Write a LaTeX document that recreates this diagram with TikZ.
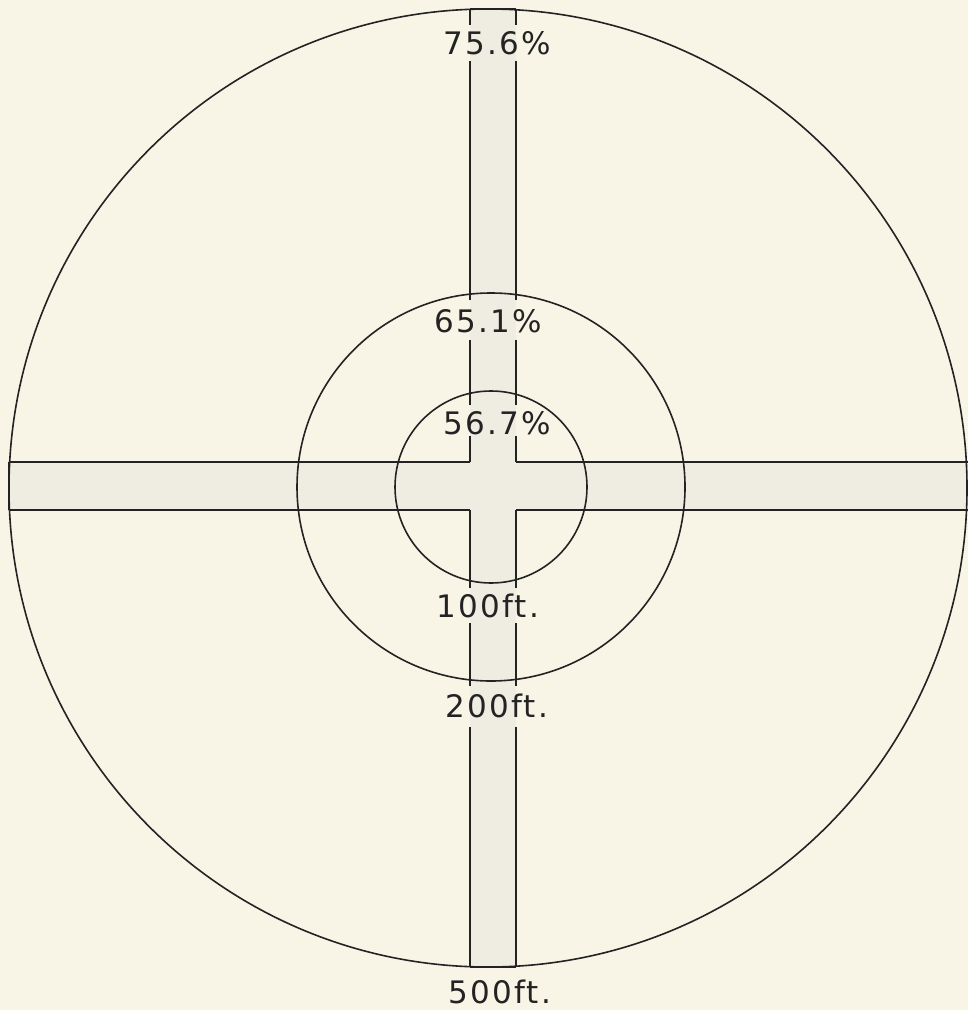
\documentclass[tikz,border=0pt]{standalone}
\usepackage{fontspec}
\newfontfamily\labfont[LetterSpace=7]{DejaVu Sans}
\definecolor{paper}{RGB}{248,245,231}
\definecolor{band}{RGB}{239,237,226}
\definecolor{ink}{RGB}{35,35,35}
\tikzset{
  ring/.style={draw=ink, line width=0.8pt},
  edge/.style={draw=ink, line width=1pt},
  lab/.style={anchor=base, inner sep=0pt, text=ink, font=\labfont\fontsize{15.5pt}{16pt}\selectfont}
}
\begin{document}
\begin{tikzpicture}[x=0.5pt,y=-0.5pt]
\fill[paper] (0,0) rectangle (968,1010);
\useasboundingbox (0,0) rectangle (968,1010);
% band fills
\fill[band] (470,9) rectangle (516,967);
\fill[band] (9,462) rectangle (968,510);
% horizontal band edges
\draw[edge] (9,462) -- (470,462);
\draw[edge] (516,462) -- (968,462);
\draw[edge] (9,510) -- (470,510);
\draw[edge] (516,510) -- (968,510);
\draw[edge] (9,462) -- (9,510);
% vertical band ends
\draw[edge] (470,9) -- (516,9);
\draw[edge] (470,967) -- (516,967);
% vertical band edges, broken by labels
\foreach \x in {470,516}{
  \draw[edge] (\x,9) -- (\x,25);
  \draw[edge] (\x,61) -- (\x,300);
  \draw[edge] (\x,340) -- (\x,405);
  \draw[edge] (\x,436) -- (\x,462);
  \draw[edge] (\x,510) -- (\x,588);
  \draw[edge] (\x,623) -- (\x,686);
  \draw[edge] (\x,727) -- (\x,967);
}
% circles
\draw[ring] (488,488) circle[radius=479];
\draw[ring] (491,487) circle[radius=194];
\draw[ring] (491,487) circle[radius=96];
% labels
\node[lab] (p756) at (497,55) {75.6\%};
\node[lab] (p651) at (488,332) {65.1\%};
\node[lab] (p567) at (497,434) {56.7\%};
\node[lab] (f100) at (488,617) {100ft.};
\node[lab] (f200) at (497,717) {200ft.};
\node[lab] (f500) at (500,1003) {500ft.};
\end{tikzpicture}
\end{document}
